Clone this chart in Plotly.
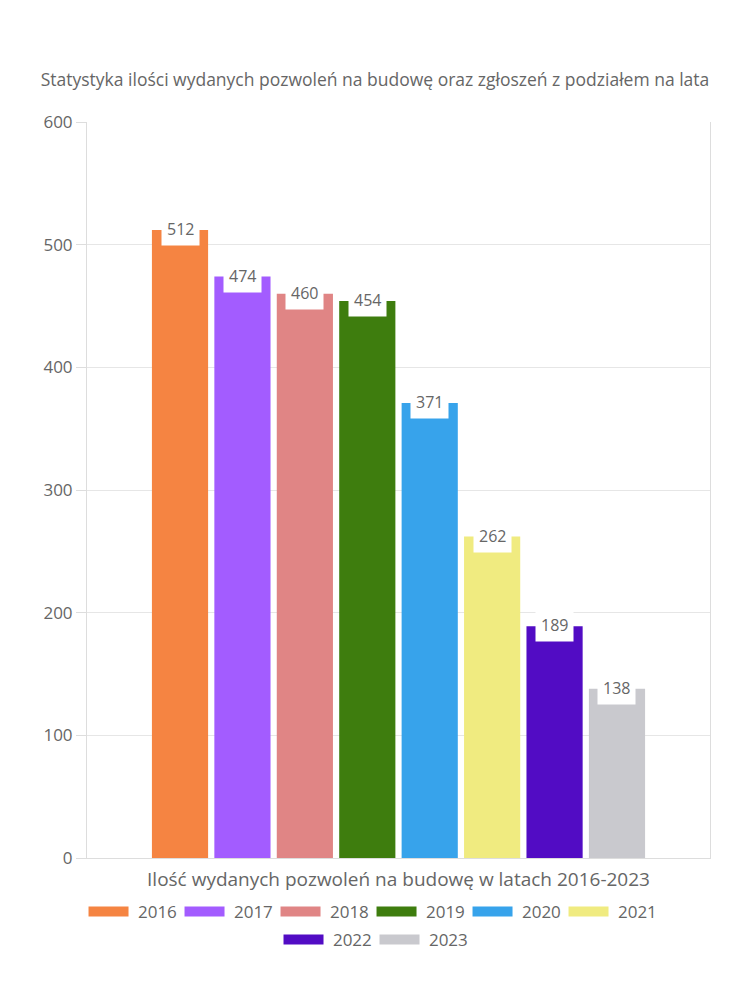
import plotly.graph_objects as go

years = ["2016", "2017", "2018", "2019", "2020", "2021", "2022", "2023"]
values = [512, 474, 460, 454, 371, 262, 189, 138]
colors = ["#F58442", "#A35CFF", "#E08585", "#3E7D0E", "#37A3EB", "#F0EB80", "#520CC4", "#C9C9CE"]
y_ticks = [0, 100, 200, 300, 400, 500, 600]

title_text = "Statystyka ilości wydanych pozwoleń na budowę oraz zgłoszeń z podziałem na lata"
x_title = "Ilość wydanych pozwoleń na budowę w latach 2016-2023"

FONT = "'Open Sans', 'Noto Sans', sans-serif"
TXT = "#666666"

fig = go.Figure()
for i, (yr, v, c) in enumerate(zip(years, values, colors)):
    fig.add_trace(go.Bar(x=[yr], y=[v], name=yr, marker=dict(color=c, line=dict(width=0)),
                         hoverinfo="y", showlegend=False))
    fig.add_trace(go.Scatter(x=[None], y=[None], name="\u00a0" + yr, mode="lines",
                             line=dict(color=c, width=13), showlegend=True,
                             legend="legend" if i < 6 else "legend2"))
    fig.add_annotation(x=i, y=v, text=str(v), showarrow=False, yanchor="middle",
                       bgcolor="white", borderpad=5, yshift=1,
                       font=dict(size=16, color=TXT, family=FONT))

legend_common = dict(orientation="h", xanchor="center", yanchor="top",
                     font=dict(size=17, color=TXT, family=FONT), entrywidth=41,
                     itemwidth=40, traceorder="normal", bgcolor="rgba(0,0,0,0)")

fig.update_layout(
    width=750, height=1000,
    paper_bgcolor="white", plot_bgcolor="white",
    margin=dict(l=79, r=48, t=114, b=150),
    barmode="overlay", bargap=0.1,
    font=dict(family=FONT, color=TXT),
    title=dict(text=title_text, x=0.4893, xanchor="center", y=0.928, yanchor="middle",
               font=dict(size=17.5, color=TXT, family=FONT)),
    xaxis=dict(type="category", range=[-1.49, 8.49], showticklabels=False,
               showgrid=False, showline=True, linecolor="#dddddd", linewidth=1,
               mirror=False, zeroline=False,
               title=dict(text=x_title, font=dict(size=19, color=TXT, family=FONT), standoff=14)),
    yaxis=dict(range=[0, 600], tickvals=y_ticks, showgrid=True, gridcolor="#e6e6e6",
               showline=True, linecolor="#dddddd", mirror=True, zeroline=False,
               ticks="outside", ticklen=10, tickcolor="#dddddd",
               tickfont=dict(size=17, color=TXT, family=FONT)),
    legend=dict(x=0.4567, y=-0.0489, **legend_common),
    legend2=dict(x=0.4615, y=-0.087, **legend_common),
)

fig.write_html("out.html")
